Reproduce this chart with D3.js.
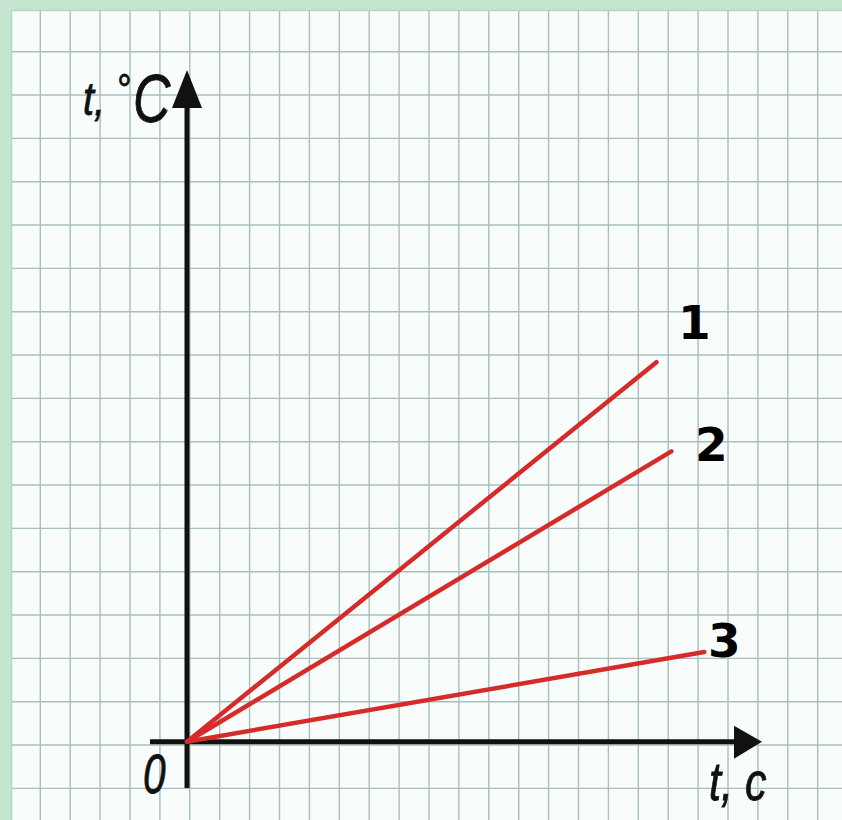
<!DOCTYPE html>
<html>
<head>
<meta charset="utf-8">
<script src="https://cdn.jsdelivr.net/npm/d3@7"></script>
<style>
  html, body { margin: 0; padding: 0; background: #fff; }
  svg { display: block; }
</style>
</head>
<body>
<svg></svg>
<script>
'use strict';

const width = 842, height = 820;

// series: [time, temperature] in grid units
const series1 = [[0, 0], [15.7, 8.76]];
const series2 = [[0, 0], [16.2, 6.7]];
const series3 = [[0, 0], [17.3, 2.07]];
const seriesLabels = ["1", "2", "3"];
const xLabel = "t, c";
const yLabel = ["t,", "°", "C"];
const originLabel = "0";

const seriesList = [series1, series2, series3];

let svg = d3.select("svg")
  .attr("width", width)
  .attr("height", height)
  .attr("viewBox", [0, 0, width, height]);

// graph paper
svg.append("rect")
  .attr("width", width).attr("height", height)
  .attr("fill", "#f8fdfb");

const cellW = 29.9, cellH = 43.33;
let grid = svg.append("g")
  .attr("stroke", "#a8bfbb")
  .attr("stroke-width", 1.4);

grid.selectAll("line.v")
  .data(d3.range(10.4 + cellW, width, cellW))
  .join("line")
    .attr("class", "v")
    .attr("x1", d => d).attr("x2", d => d)
    .attr("y1", 10).attr("y2", height);

grid.selectAll("line.h")
  .data(d3.range(8.4 + cellH, height, cellH))
  .join("line")
    .attr("class", "h")
    .attr("x1", 11).attr("x2", width)
    .attr("y1", d => d).attr("y2", d => d);

// green frame
svg.append("rect")
  .attr("x", 0).attr("y", 0).attr("width", width).attr("height", 10)
  .attr("fill", "#c4e6d1");
svg.append("rect")
  .attr("x", 0).attr("y", 0).attr("width", 11).attr("height", height)
  .attr("fill", "#c4e6d1");
svg.append("line")
  .attr("x1", 11).attr("x2", width).attr("y1", 10.5).attr("y2", 10.5)
  .attr("stroke", "#b3d6c2").attr("stroke-width", 1.5);
svg.append("line")
  .attr("x1", 11.5).attr("x2", 11.5).attr("y1", 10).attr("y2", height)
  .attr("stroke", "#b3d6c2").attr("stroke-width", 1.5);

// scales
let x = d3.scaleLinear().domain([0, 19]).range([187, 187 + 19 * cellW]);
let y = d3.scaleLinear().domain([0, 16]).range([741.7, 741.7 - 16 * cellH]);

// axes
let axes = svg.append("g").attr("fill", "#111").attr("stroke", "#111");

axes.append("line")
  .attr("x1", x(0)).attr("x2", x(0))
  .attr("y1", 788).attr("y2", 100)
  .attr("stroke-width", 5);
axes.append("path")
  .attr("stroke", "none")
  .attr("d", `M${x(0)},70 L${x(0) + 15},108 L${x(0) - 15},108 Z`);

axes.append("line")
  .attr("x1", 150).attr("x2", 740)
  .attr("y1", y(0)).attr("y2", y(0))
  .attr("stroke-width", 5);
axes.append("path")
  .attr("stroke", "none")
  .attr("d", `M762,${y(0)} L734,${y(0) - 16} L734,${y(0) + 17} Z`);

// series lines
let line = d3.line().x(d => x(d[0])).y(d => y(d[1]));

svg.append("g")
  .selectAll("path")
  .data(seriesList)
  .join("path")
    .attr("d", line)
    .attr("fill", "none")
    .attr("stroke", "#d62b2b")
    .attr("stroke-width", 4.5)
    .attr("stroke-linecap", "round");

// series labels
const labelOffsets = [[38, -23], [40, 10], [20, 5]];
svg.append("g")
  .attr("font-family", "'DejaVu Sans', Verdana, sans-serif")
  .attr("font-weight", "bold")
  .attr("font-size", 47)
  .attr("fill", "#000")
  .attr("text-anchor", "middle")
  .selectAll("text")
  .data(seriesList)
  .join("text")
    .attr("x", (d, i) => x(d[d.length - 1][0]) + labelOffsets[i][0])
    .attr("y", (d, i) => y(d[d.length - 1][1]) + labelOffsets[i][1])
    .text((d, i) => seriesLabels[i]);

// axis labels (narrow italic, squeezed horizontally)
const labelFont = "'Liberation Sans', Arial, sans-serif";

function narrowText(tx, ty, size, str, sx) {
  svg.append("text")
    .attr("font-family", labelFont)
    .attr("font-style", "italic")
    .attr("font-size", size)
    .attr("fill", "#111")
    .attr("stroke", "#111")
    .attr("stroke-width", 0.8)
    .attr("transform", `translate(${tx},${ty}) scale(${sx},1)`)
    .text(str);
}

narrowText(83, 115, 47, yLabel[0], 0.84);
narrowText(116, 104, 42, yLabel[1], 0.85);
narrowText(133, 122, 68, yLabel[2], 0.76);

narrowText(709, 800, 54, xLabel, 0.8);
narrowText(143, 793, 55, originLabel, 0.74);
</script>
</body>
</html>
